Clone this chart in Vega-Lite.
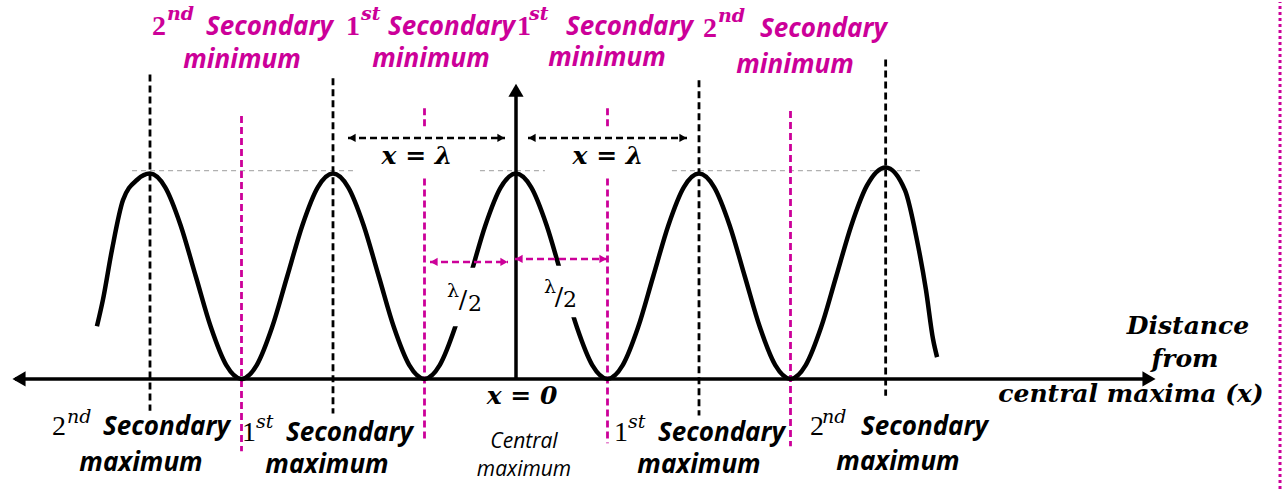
{
  "$schema": "https://vega.github.io/schema/vega-lite/v6.json",
  "width": 1283,
  "height": 491,
  "padding": 0,
  "autosize": {"type": "fit", "contains": "padding"},
  "background": "white",
  "config": {"view": {"stroke": null}},
  "datasets": {
    "peakLevel": [
      {"x": -2.098, "x2": -0.891, "y": 1.0145},
      {"x": -0.197, "x2": 0.158, "y": 1.0145},
      {"x": 0.852, "x2": 2.219, "y": 1.0145}
    ],
    "maxLines": [
      {"x": -2, "y": 1.4831, "y2": -0.1546},
      {"x": -1, "y": 1.4638, "y2": -0.1691},
      {"x": 1, "y": 1.4541, "y2": -0.1787},
      {"x": 2.02, "y": 1.5556, "y2": -0.0821}
    ],
    "minLines": [
      {"x": -1.5, "y": 1.2802, "y2": -0.3527},
      {"x": -0.5, "y": 1.3188, "y2": 1.2174},
      {"x": -0.5, "y": 0.9758, "y2": -0.3092},
      {"x": 0.5, "y": 1.3188, "y2": 1.2174},
      {"x": 0.5, "y": 0.9758, "y2": -0.314},
      {"x": 1.5, "y": 1.3043, "y2": -0.3285}
    ],
    "curve": [
      {"x": -2.29, "y": 0.256}, {"x": -2.257, "y": 0.386}, {"x": -2.208, "y": 0.628}, {"x": -2.148, "y": 0.87}, {"x": -2.07, "y": 0.97}, {"x": -2, "y": 1},
      {"x": -1.9167, "y": 0.933}, {"x": -1.8333, "y": 0.75}, {"x": -1.75, "y": 0.5}, {"x": -1.6667, "y": 0.25}, {"x": -1.5833, "y": 0.067}, {"x": -1.5, "y": 0},
      {"x": -1.4167, "y": 0.067}, {"x": -1.3333, "y": 0.25}, {"x": -1.25, "y": 0.5}, {"x": -1.1667, "y": 0.75}, {"x": -1.0833, "y": 0.933}, {"x": -1, "y": 1},
      {"x": -0.9167, "y": 0.933}, {"x": -0.8333, "y": 0.75}, {"x": -0.75, "y": 0.5}, {"x": -0.6667, "y": 0.25}, {"x": -0.5833, "y": 0.067}, {"x": -0.5, "y": 0},
      {"x": -0.4167, "y": 0.067}, {"x": -0.3333, "y": 0.25}, {"x": -0.25, "y": 0.5}, {"x": -0.1667, "y": 0.75}, {"x": -0.0833, "y": 0.933}, {"x": 0, "y": 1},
      {"x": 0.0833, "y": 0.933}, {"x": 0.1667, "y": 0.75}, {"x": 0.25, "y": 0.5}, {"x": 0.3333, "y": 0.25}, {"x": 0.4167, "y": 0.067}, {"x": 0.5, "y": 0},
      {"x": 0.5833, "y": 0.067}, {"x": 0.6667, "y": 0.25}, {"x": 0.75, "y": 0.5}, {"x": 0.8333, "y": 0.75}, {"x": 0.9167, "y": 0.933}, {"x": 1, "y": 1},
      {"x": 1.0833, "y": 0.933}, {"x": 1.1667, "y": 0.75}, {"x": 1.25, "y": 0.5}, {"x": 1.3333, "y": 0.25}, {"x": 1.4167, "y": 0.067}, {"x": 1.5, "y": 0},
      {"x": 1.5833, "y": 0.067}, {"x": 1.6667, "y": 0.25}, {"x": 1.75, "y": 0.5}, {"x": 1.8333, "y": 0.75}, {"x": 1.9167, "y": 0.94}, {"x": 2.02, "y": 1.03},
      {"x": 2.126, "y": 0.918}, {"x": 2.191, "y": 0.676}, {"x": 2.24, "y": 0.435}, {"x": 2.279, "y": 0.193}, {"x": 2.301, "y": 0.106}
    ],
    "masks": [
      {"x": -0.388, "x2": -0.142, "y": 0.541, "y2": 0.256},
      {"x": 0.131, "x2": 0.404, "y": 0.551, "y2": 0.3}
    ],
    "axisLines": [
      {"x": -2.7377, "x2": 3.4645, "y": 0, "y2": 0},
      {"x": 0, "x2": 0, "y": 0, "y2": 1.3913}
    ],
    "axisHeads": [
      {"x": -2.7158, "y": 0, "dir": "left"},
      {"x": 3.459, "y": 0, "dir": "right"},
      {"x": 0, "y": 1.4058, "dir": "up"}
    ],
    "lambdaArrows": [
      {"x": -0.918, "x2": -0.0601, "y": 1.1739},
      {"x": 0.0656, "x2": 0.9344, "y": 1.1739}
    ],
    "lambdaHeads": [
      {"x": -0.8962, "y": 1.1739, "dir": "left"},
      {"x": -0.082, "y": 1.1739, "dir": "right"},
      {"x": 0.0874, "y": 1.1739, "dir": "left"},
      {"x": 0.9126, "y": 1.1739, "dir": "right"}
    ],
    "halfArrows": [
      {"x": -0.4699, "x2": -0.0437, "y": 0.57},
      {"x": -0.0055, "x2": 0.4973, "y": 0.5845}
    ],
    "halfHeads": [
      {"x": -0.4481, "y": 0.57, "dir": "left"},
      {"x": -0.0656, "y": 0.57, "dir": "right"},
      {"x": 0.0164, "y": 0.5845, "dir": "left"},
      {"x": 0.4754, "y": 0.5845, "dir": "right"}
    ],
    "magWordsRight": [
      {"x": -1.0, "y": 1.6763, "text": "Secondary"},
      {"x": -0.0055, "y": 1.6763, "text": "Secondary"},
      {"x": 0.9672, "y": 1.6763, "text": "Secondary"},
      {"x": 2.0273, "y": 1.6667, "text": "Secondary"}
    ],
    "magWordsCenter": [
      {"x": -1.4973, "y": 1.5121, "text": "minimum"},
      {"x": -0.4645, "y": 1.5169, "text": "minimum"},
      {"x": 0.4973, "y": 1.5217, "text": "minimum"},
      {"x": 1.5246, "y": 1.4879, "text": "minimum"}
    ],
    "magNums": [
      {"x": -1.9891, "y": 1.6763, "text": "2"},
      {"x": -0.929, "y": 1.6763, "text": "1"},
      {"x": 0.0055, "y": 1.6763, "text": "1"},
      {"x": 1.0219, "y": 1.6667, "text": "2"}
    ],
    "magSups": [
      {"x": -1.9071, "y": 1.7488, "text": "nd"},
      {"x": -0.847, "y": 1.7488, "text": "st"},
      {"x": 0.071, "y": 1.7488, "text": "st"},
      {"x": 1.1038, "y": 1.7391, "text": "nd"}
    ],
    "blkWordsRight": [
      {"x": -1.5628, "y": -0.2754, "text": "Secondary"},
      {"x": -0.5628, "y": -0.3043, "text": "Secondary"},
      {"x": 1.4699, "y": -0.3043, "text": "Secondary"},
      {"x": 2.5792, "y": -0.2754, "text": "Secondary"}
    ],
    "blkWordsCenter": [
      {"x": -2.0492, "y": -0.4493, "text": "maximum"},
      {"x": -1.0328, "y": -0.4589, "text": "maximum"},
      {"x": 1.0, "y": -0.4589, "text": "maximum"},
      {"x": 2.0874, "y": -0.4444, "text": "maximum"}
    ],
    "blkNums": [
      {"x": -2.5355, "y": -0.2754, "text": "2"},
      {"x": -1.4973, "y": -0.3043, "text": "1"},
      {"x": 0.5355, "y": -0.3043, "text": "1"},
      {"x": 1.6066, "y": -0.2754, "text": "2"}
    ],
    "blkSups": [
      {"x": -2.4536, "y": -0.2126, "text": "nd"},
      {"x": -1.4208, "y": -0.2415, "text": "st"},
      {"x": 0.612, "y": -0.2415, "text": "st"},
      {"x": 1.6721, "y": -0.2126, "text": "nd"}
    ],
    "central": [
      {"x": 0.0437, "y": -0.3382, "text": "Central"},
      {"x": 0.0437, "y": -0.4734, "text": "maximum"}
    ],
    "mathText": [
      {"x": -0.541, "y": 1.0483, "text": "x = λ"},
      {"x": 0.5027, "y": 1.0483, "text": "x = λ"},
      {"x": 0.0328, "y": -0.1208, "text": "x = 0"},
      {"x": 3.6721, "y": 0.2174, "text": "Distance"},
      {"x": 3.6557, "y": 0.058, "text": "from"},
      {"x": 3.3607, "y": -0.1111, "text": "central maxima (x)"}
    ],
    "lambdaSmall": [
      {"x": -0.3443, "y": 0.401, "text": "λ"},
      {"x": 0.1858, "y": 0.4203, "text": "λ"}
    ],
    "slash": [
      {"x": -0.2896, "y": 0.343, "text": "/"},
      {"x": 0.235, "y": 0.3623, "text": "/"}
    ],
    "two": [
      {"x": -0.224, "y": 0.3285, "text": "2"},
      {"x": 0.2951, "y": 0.3478, "text": "2"}
    ],
    "border": [
      {"x": 4.175, "y": -0.5362, "y2": 1.8357}
    ]
  },
  "encoding": {
    "x": {"field": "x", "type": "quantitative", "scale": {"domain": [-2.81967, 4.19126], "nice": false, "zero": false}, "axis": null},
    "y": {"field": "y", "type": "quantitative", "scale": {"domain": [-0.53623, 1.83575], "nice": false, "zero": false}, "axis": null}
  },
  "layer": [
    {"data": {"name": "peakLevel"}, "mark": {"type": "rule", "color": "#b0b0b0", "strokeWidth": 1.3, "strokeDash": [5, 4]}, "encoding": {"x2": {"field": "x2"}}},
    {"data": {"name": "maxLines"}, "mark": {"type": "rule", "color": "#000000", "strokeWidth": 2.8, "strokeDash": [7, 4]}, "encoding": {"y2": {"field": "y2"}}},
    {"data": {"name": "minLines"}, "mark": {"type": "rule", "color": "#cc0099", "strokeWidth": 2.8, "strokeDash": [7, 4]}, "encoding": {"y2": {"field": "y2"}}},
    {"data": {"name": "curve"}, "mark": {"type": "line", "color": "#000000", "strokeWidth": 4.5, "interpolate": "monotone"}, "encoding": {}},
    {"data": {"name": "masks"}, "mark": {"type": "rect", "color": "white", "opacity": 1}, "encoding": {"x2": {"field": "x2"}, "y2": {"field": "y2"}}},
    {"data": {"name": "axisLines"}, "mark": {"type": "rule", "color": "#000000", "strokeWidth": 3.5}, "encoding": {"x2": {"field": "x2"}, "y2": {"field": "y2"}}},
    {"data": {"name": "axisHeads"}, "mark": {"type": "point", "filled": true, "color": "#000000", "opacity": 1, "strokeWidth": 0},
     "encoding": {"shape": {"field": "dir", "type": "nominal", "scale": {"domain": ["left", "right", "up"], "range": ["triangle-left", "triangle-right", "triangle-up"]}, "legend": null}, "size": {"value": 230}}},
    {"data": {"name": "lambdaArrows"}, "mark": {"type": "rule", "color": "#000000", "strokeWidth": 2.5, "strokeDash": [7, 4]}, "encoding": {"x2": {"field": "x2"}}},
    {"data": {"name": "lambdaHeads"}, "mark": {"type": "point", "filled": true, "color": "#000000", "opacity": 1, "strokeWidth": 0},
     "encoding": {"shape": {"field": "dir", "type": "nominal", "scale": {"domain": ["left", "right", "up"], "range": ["triangle-left", "triangle-right", "triangle-up"]}, "legend": null}, "size": {"value": 70}}},
    {"data": {"name": "halfArrows"}, "mark": {"type": "rule", "color": "#cc0099", "strokeWidth": 2.5, "strokeDash": [7, 4]}, "encoding": {"x2": {"field": "x2"}}},
    {"data": {"name": "halfHeads"}, "mark": {"type": "point", "filled": true, "color": "#cc0099", "opacity": 1, "strokeWidth": 0},
     "encoding": {"shape": {"field": "dir", "type": "nominal", "scale": {"domain": ["left", "right", "up"], "range": ["triangle-left", "triangle-right", "triangle-up"]}, "legend": null}, "size": {"value": 70}}},
    {"data": {"name": "magWordsRight"}, "mark": {"type": "text", "align": "right", "baseline": "alphabetic", "font": "Open Sans", "fontSize": 26, "fontStyle": "italic", "fontWeight": "bold", "color": "#cc0099"}, "encoding": {"text": {"field": "text"}}},
    {"data": {"name": "magWordsCenter"}, "mark": {"type": "text", "align": "center", "baseline": "alphabetic", "font": "Open Sans", "fontSize": 26, "fontStyle": "italic", "fontWeight": "bold", "color": "#cc0099"}, "encoding": {"text": {"field": "text"}}},
    {"data": {"name": "magNums"}, "mark": {"type": "text", "align": "left", "baseline": "alphabetic", "font": "Liberation Serif", "fontSize": 28, "fontWeight": "bold", "color": "#cc0099"}, "encoding": {"text": {"field": "text"}}},
    {"data": {"name": "magSups"}, "mark": {"type": "text", "align": "left", "baseline": "alphabetic", "font": "DejaVu Serif", "fontSize": 19, "fontStyle": "italic", "fontWeight": "bold", "color": "#cc0099"}, "encoding": {"text": {"field": "text"}}},
    {"data": {"name": "blkWordsRight"}, "mark": {"type": "text", "align": "right", "baseline": "alphabetic", "font": "Open Sans", "fontSize": 26, "fontStyle": "italic", "fontWeight": "bold", "color": "#000000"}, "encoding": {"text": {"field": "text"}}},
    {"data": {"name": "blkWordsCenter"}, "mark": {"type": "text", "align": "center", "baseline": "alphabetic", "font": "Open Sans", "fontSize": 26, "fontStyle": "italic", "fontWeight": "bold", "color": "#000000"}, "encoding": {"text": {"field": "text"}}},
    {"data": {"name": "blkNums"}, "mark": {"type": "text", "align": "left", "baseline": "alphabetic", "font": "Liberation Serif", "fontSize": 28, "color": "#000000"}, "encoding": {"text": {"field": "text"}}},
    {"data": {"name": "blkSups"}, "mark": {"type": "text", "align": "left", "baseline": "alphabetic", "font": "DejaVu Serif", "fontSize": 19, "fontStyle": "italic", "color": "#000000"}, "encoding": {"text": {"field": "text"}}},
    {"data": {"name": "central"}, "mark": {"type": "text", "align": "center", "baseline": "alphabetic", "font": "Open Sans", "fontSize": 21, "fontStyle": "italic", "color": "#000000"}, "encoding": {"text": {"field": "text"}}},
    {"data": {"name": "mathText"}, "mark": {"type": "text", "align": "center", "baseline": "alphabetic", "font": "DejaVu Serif", "fontSize": 25, "fontStyle": "italic", "fontWeight": "bold", "color": "#000000"}, "encoding": {"text": {"field": "text"}}},
    {"data": {"name": "lambdaSmall"}, "mark": {"type": "text", "align": "center", "baseline": "alphabetic", "font": "DejaVu Serif", "fontSize": 19, "color": "#000000"}, "encoding": {"text": {"field": "text"}}},
    {"data": {"name": "slash"}, "mark": {"type": "text", "align": "center", "baseline": "alphabetic", "font": "DejaVu Serif", "fontSize": 25, "color": "#000000"}, "encoding": {"text": {"field": "text"}}},
    {"data": {"name": "two"}, "mark": {"type": "text", "align": "center", "baseline": "alphabetic", "font": "DejaVu Serif", "fontSize": 22, "color": "#000000"}, "encoding": {"text": {"field": "text"}}},
    {"data": {"name": "border"}, "mark": {"type": "rule", "color": "#cc0099", "strokeWidth": 3, "strokeDash": [3, 3]}, "encoding": {"y2": {"field": "y2"}}}
  ]
}
